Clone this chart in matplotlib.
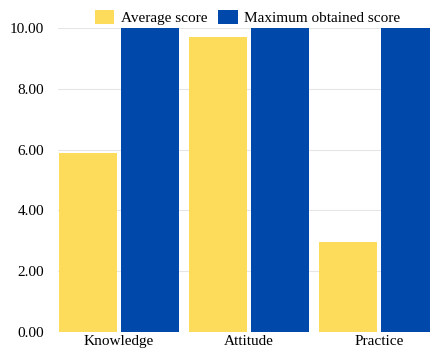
import matplotlib.pyplot as plt
import numpy as np

categories = ["Knowledge", "Attitude", "Practice"]
average_score = [5.9, 9.7, 2.95]
max_score = [10.0, 10.0, 10.0]
yticks = [0, 2, 4, 6, 8, 10]

yellow = "#FDDC5C"
blue = "#0048AA"

plt.rcParams["font.family"] = ["Liberation Serif", "DejaVu Serif"]

fig = plt.figure(figsize=(4.3, 3.52), dpi=100)
# axes run past the right edge, like the cropped original
ax = fig.add_axes([58 / 430, 20 / 352, 1 - 58 / 430, 304 / 352])

x = np.arange(len(categories))
w = 0.45
ax.bar(x - 0.24, average_score, w, color=yellow, label="Average score", zorder=3)
ax.bar(x + 0.24, max_score, w, color=blue, label="Maximum obtained score", zorder=3)

ax.set_xlim(-0.469, 2.392)
ax.set_ylim(0, 10)
ax.set_yticks(yticks)
ax.set_yticklabels([f"{v:.2f}" for v in yticks], fontsize=11)
ax.set_xticks(x)
ax.set_xticklabels(categories, fontsize=11)
ax.tick_params(length=0)
ax.tick_params(axis="y", pad=10)
ax.tick_params(axis="x", pad=2)
ax.grid(axis="y", color="#e6e6e6", linewidth=0.8, zorder=0)
for s in ax.spines.values():
    s.set_visible(False)

fig.legend(loc="upper center", bbox_to_anchor=(0.575, 1.01), ncol=2, frameon=False,
           fontsize=11, handlelength=1.3, handleheight=1.0, columnspacing=0.7,
           handletextpad=0.4)

fig.savefig("out.png", dpi=100)
